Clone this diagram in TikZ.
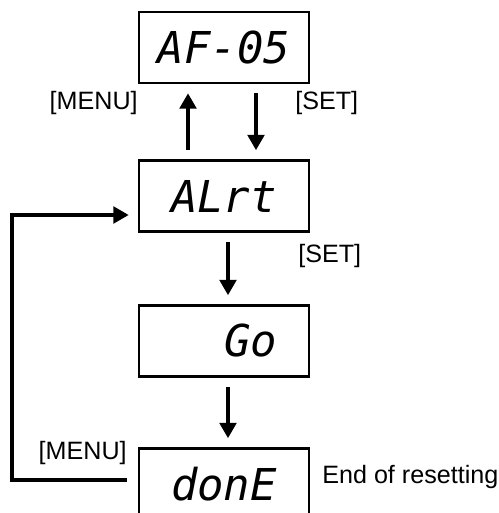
\documentclass[tikz,border=0pt]{standalone}
\usepackage{fontspec}
\setmainfont{Liberation Sans}
\newfontfamily\segfont{DejaVu Sans Mono}
\usetikzlibrary{arrows.meta, positioning}

\tikzset{
  display/.style={draw, line width=1.4pt, minimum width=3.4cm, minimum height=1.42cm,
    inner sep=0pt, font=\segfont\itshape\fontsize{25}{30}\selectfont},
  flow/.style={line width=2.2pt, -{Triangle[length=0.31cm, width=0.33cm]},
    shorten <=0.18cm, shorten >=0.18cm},
  keylabel/.style={font=\fontsize{14.3}{17}\selectfont, inner sep=0pt}
}

\begin{document}
\begin{tikzpicture}[x=0.02cm, y=-0.02cm]
  \clip (0,0) rectangle (499,513);

  % Display states
  \node[display] (af)   at (224,47.5) {AF-05};
  \node[display] (alrt) at (224,196)  {ALrt};
  \node[display] (go)   at (224,341)  {\phantom{AL}Go};
  \node[display] (done) at (224,484)  {donE};

  % Key labels
  \node[keylabel, anchor=east] (menuup) at (138,103) {[MENU]};
  \node[keylabel, anchor=west] (setup)  at (295,103) {[SET]};
  \node[keylabel, anchor=west] (setgo)  at (298,256) {[SET]};
  \node[keylabel, anchor=east] (menudn) at (127,453) {[MENU]};
  \node[keylabel, anchor=west] (endtxt) at (322,477) {End of resetting};

  % Transitions
  \draw[flow] ([xshift=-0.72cm]alrt.north) -- ([xshift=-0.72cm]af.south);
  \draw[flow] ([xshift=0.64cm]af.south) -- ([xshift=0.64cm]alrt.north);
  \draw[flow] ([xshift=0.08cm]alrt.south) -- ([xshift=0.08cm]go.north);
  \draw[flow] ([xshift=0.08cm]go.south) -- ([xshift=0.08cm]done.north);

  % Return loop to ALrt
  \coordinate (back) at (12,215);
  \draw[flow, shorten <=0.22cm] ([yshift=0.08cm]done.west) -| (back)
    -- ([yshift=-0.38cm]alrt.west);
\end{tikzpicture}
\end{document}
